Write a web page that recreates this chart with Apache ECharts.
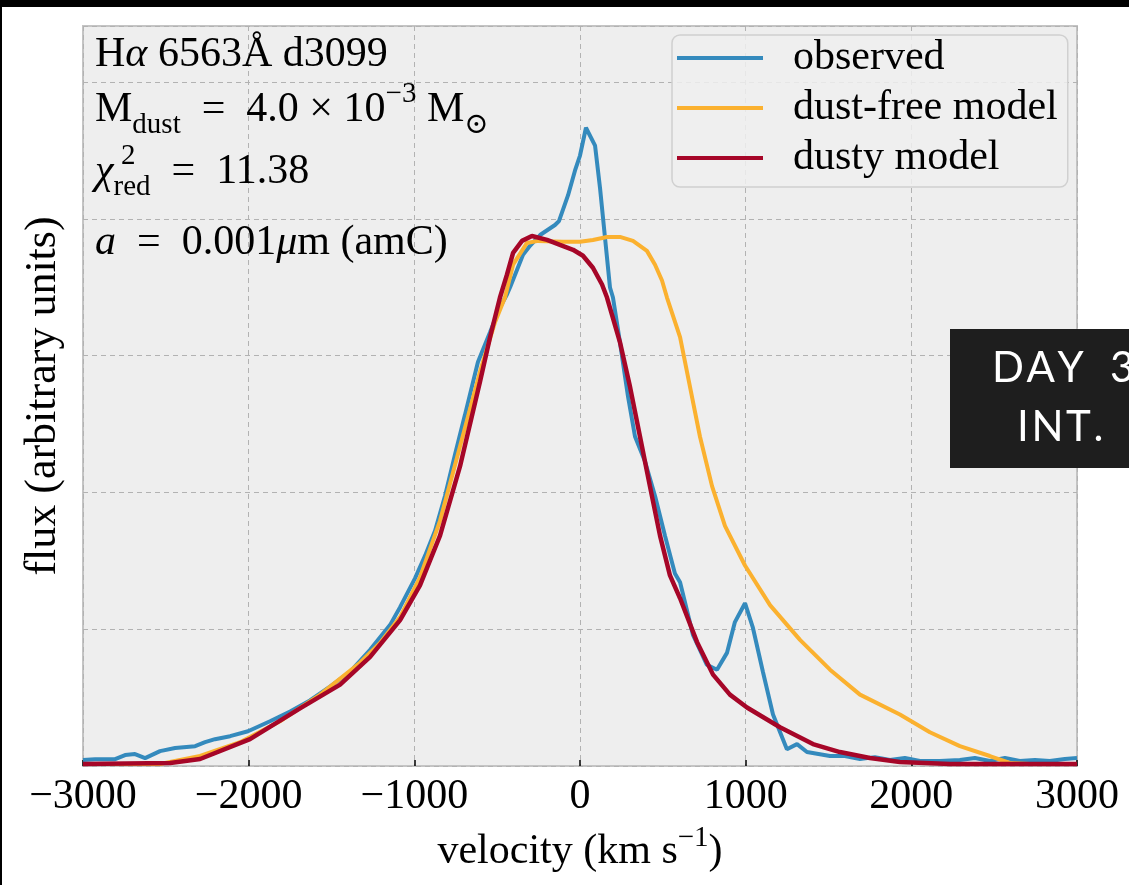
<!DOCTYPE html>
<html><head><meta charset="utf-8">
<script src="https://cdn.jsdelivr.net/npm/echarts@6/dist/echarts.min.js"></script>
<style>html,body{margin:0;padding:0;background:#fff}#c{width:1129px;height:885px}</style>
</head><body><div id="c"></div>
<script>
// ---- data (velocity km/s, flux arbitrary units) ----
const seriesNames = ['observed', 'dust-free model', 'dusty model'];
const xTicks = [-3000, -2000, -1000, 0, 1000, 2000, 3000];

const obsV = [-3000,-2927,-2806,-2746,-2686,-2625,-2535,-2444,-2323,-2263,-2203,-2112,-2004,-1871,-1750,-1630,-1509,-1388,-1267,-1147,-1086,-996,-935,-875,-815,-754,-694,-616,-543,-483,-441,-422,-344,-302,-241,-151,-127,-72,-30,0,36,91,121,151,181,199,241,290,332,392,453,513,573,604,682,766,827,887,935,996,1044,1104,1165,1249,1310,1370,1509,1599,1690,1780,1871,1961,2052,2173,2293,2384,2474,2565,2655,2746,2836,2927,3000];
const obsF = [0.044,0.05,0.05,0.08,0.087,0.058,0.109,0.131,0.145,0.174,0.196,0.218,0.254,0.327,0.399,0.479,0.581,0.689,0.849,1.03,1.161,1.372,1.538,1.72,1.974,2.279,2.569,2.954,3.171,3.353,3.447,3.5,3.737,3.803,3.882,3.955,3.984,4.173,4.354,4.463,4.666,4.535,4.224,3.861,3.498,3.425,3.099,2.7,2.409,2.228,1.974,1.684,1.408,1.343,0.958,0.74,0.704,0.827,1.052,1.19,1.009,0.689,0.377,0.123,0.16,0.102,0.073,0.073,0.051,0.065,0.044,0.058,0.036,0.036,0.044,0.058,0.036,0.058,0.036,0.044,0.036,0.051,0.058];

const freeV = [-3000,-2535,-2293,-2052,-1811,-1569,-1328,-1207,-1086,-966,-845,-724,-604,-513,-453,-404,-320,-253,-103,0,78,163,241,320,404,453,495,525,604,664,724,797,875,996,1147,1328,1509,1690,1931,2112,2293,2474,2595,2716,3000];
const freeF = [0.015,0.015,0.073,0.174,0.327,0.522,0.755,0.9,1.089,1.379,1.792,2.337,2.881,3.244,3.425,3.665,3.824,3.839,3.832,3.832,3.846,3.868,3.868,3.839,3.766,3.665,3.549,3.425,3.135,2.772,2.409,2.046,1.756,1.466,1.176,0.922,0.704,0.522,0.377,0.247,0.145,0.073,0.022,0.015,0.015];

const dustyV = [-3000,-2474,-2293,-1992,-1690,-1448,-1267,-1086,-966,-845,-724,-604,-543,-483,-441,-404,-350,-290,-199,-121,-42,18,78,133,163,241,302,362,422,483,543,604,706,803,905,1008,1207,1406,1569,1750,1931,2233,3000];
const dustyF = [0.015,0.022,0.051,0.196,0.421,0.595,0.798,1.067,1.321,1.684,2.192,2.808,3.135,3.425,3.592,3.752,3.839,3.875,3.846,3.81,3.774,3.73,3.643,3.52,3.425,3.099,2.772,2.409,2.046,1.684,1.393,1.226,0.907,0.668,0.522,0.428,0.283,0.16,0.102,0.058,0.029,0.015,0.015];

const colors = ['#348ABD', '#FBB12F', '#A60628'];
const F = '"Liberation Serif", "DejaVu Serif", serif';
const EQ = '\u2002=\u2002';

const zip = (a, b) => a.map((v, i) => [v, b[i]]);
const fmt = v => v < 0 ? '\u2212' + Math.abs(v) : String(v);

const chart = echarts.init(document.getElementById('c'));
chart.setOption({
  animation: false,
  backgroundColor: '#fff',
  grid: { left: 83, top: 26, right: 52, bottom: 113, show: true, backgroundColor: '#eeeeee', borderColor: '#c4c4c4', borderWidth: 2 },
  xAxis: {
    type: 'value', min: xTicks[0], max: xTicks[xTicks.length - 1], interval: 1000,
    axisLine: { show: false },
    axisTick: { show: true, inside: true, length: 6, lineStyle: { color: '#000', width: 1.5 } },
    axisLabel: { formatter: fmt, fontFamily: F, fontSize: 42, color: '#000', margin: 10 },
    splitLine: { show: true, lineStyle: { color: '#b2b2b2', type: [5, 4], width: 1 } },
    name: 'velocity (km s{sup|\u22121})', nameLocation: 'middle', nameGap: 58,
    nameTextStyle: { fontFamily: F, fontSize: 42, color: '#000', lineHeight: 56,
      rich: { sup: { fontFamily: F, fontSize: 29, lineHeight: 30, verticalAlign: 'top', color: '#000' } } }
  },
  yAxis: {
    type: 'value', min: 0, max: 5.41, interval: 1,
    axisLine: { show: false }, axisTick: { show: false }, axisLabel: { show: false },
    splitLine: { show: true, lineStyle: { color: '#b2b2b2', type: [5, 4], width: 1 } },
    name: 'flux (arbitrary units)', nameLocation: 'middle', nameRotate: 90, nameGap: 18,
    nameTextStyle: { fontFamily: F, fontSize: 44, color: '#000' }
  },
  legend: {
    orient: 'vertical', left: 672, top: 35,
    padding: [2, 10, 8, 5],
    itemWidth: 86, itemHeight: 4, itemGap: 8, icon: 'rect',
    backgroundColor: 'rgba(238,238,238,0.85)', borderColor: '#d0d0d0', borderWidth: 1.5, borderRadius: 8,
    textStyle: { fontFamily: F, fontSize: 42, color: '#000', lineHeight: 40, padding: [0, 0, 0, 25] },
    data: seriesNames
  },
  series: [
    { name: seriesNames[0], type: 'line', data: zip(obsV, obsF), showSymbol: false, symbol: 'none', color: colors[0], lineStyle: { width: 4, color: colors[0] }, z: 2 },
    { name: seriesNames[1], type: 'line', data: zip(freeV, freeF), showSymbol: false, symbol: 'none', color: colors[1], lineStyle: { width: 4, color: colors[1] }, z: 3 },
    { name: seriesNames[2], type: 'line', data: zip(dustyV, dustyF), showSymbol: false, symbol: 'none', color: colors[2], lineStyle: { width: 4.5, color: colors[2] }, z: 4 }
  ],
  graphic: [
    { type: 'text', x: 95, y: 55, z: 50, style: { text: 'H{i|\u03B1} 6563\u00C5 d3099', fontFamily: F, fontSize: 42, fill: '#000', verticalAlign: 'middle',
      rich: { i: { fontFamily: F, fontSize: 42, fontStyle: 'italic' } } } },
    { type: 'text', x: 95, y: 110, z: 50, style: { text: '{n|M}{sub|dust}{n|' + EQ + '4.0 \u00D7 10}{sup|\u22123}{n| M}{sub|\u2299}', fontFamily: F, fontSize: 42, fill: '#000', verticalAlign: 'middle',
      rich: { n: { fontFamily: F, fontSize: 42, lineHeight: 60 },
              sub: { fontFamily: F, fontSize: 29, lineHeight: 44, verticalAlign: 'bottom' },
              sup: { fontFamily: F, fontSize: 29, lineHeight: 24, verticalAlign: 'top' } } } },
    { type: 'text', x: 95, y: 172, z: 50, style: { text: '{i|\u03C7}{sub|red}{n|' + EQ + '11.38}', fontFamily: F, fontSize: 42, fill: '#000', verticalAlign: 'middle',
      rich: { n: { fontFamily: F, fontSize: 42, lineHeight: 60 },
              i: { fontFamily: F, fontSize: 42, lineHeight: 60, fontStyle: 'italic' },
              sub: { fontFamily: F, fontSize: 29, lineHeight: 28, verticalAlign: 'bottom' } } } },
    { type: 'text', x: 121, y: 156, z: 50, style: { text: '2', fontFamily: F, fontSize: 29, fill: '#000', verticalAlign: 'middle' } },
    { type: 'text', x: 95, y: 243, z: 50, style: { text: '{i|a}{n|' + EQ + '0.001}{i|\u03BC}{n|m (amC)}', fontFamily: F, fontSize: 42, fill: '#000', verticalAlign: 'middle',
      rich: { n: { fontFamily: F, fontSize: 42 }, i: { fontFamily: F, fontSize: 42, fontStyle: 'italic' } } } },
    { type: 'rect', z: 200, shape: { x: 0, y: 0, width: 1129, height: 7 }, style: { fill: '#000' } },
    { type: 'rect', z: 200, shape: { x: 0, y: 0, width: 2, height: 885 }, style: { fill: '#000' } },
    { type: 'rect', z: 200, shape: { x: 950, y: 329, width: 179, height: 139 }, style: { fill: '#1e1e1e' } },
    { type: 'text', x: 992, y: 368, z: 201, style: { text: 'D\u200AA\u200AY\u2002\u20093', fontFamily: 'Lato, "Noto Sans", sans-serif', fontSize: 42, fill: '#fff', verticalAlign: 'middle' } },
    { type: 'text', x: 1017, y: 427, z: 201, style: { text: 'I\u200AN\u200AT\u200A.', fontFamily: 'Lato, "Noto Sans", sans-serif', fontSize: 42, fill: '#fff', verticalAlign: 'middle' } }
  ]
});
</script></body></html>
